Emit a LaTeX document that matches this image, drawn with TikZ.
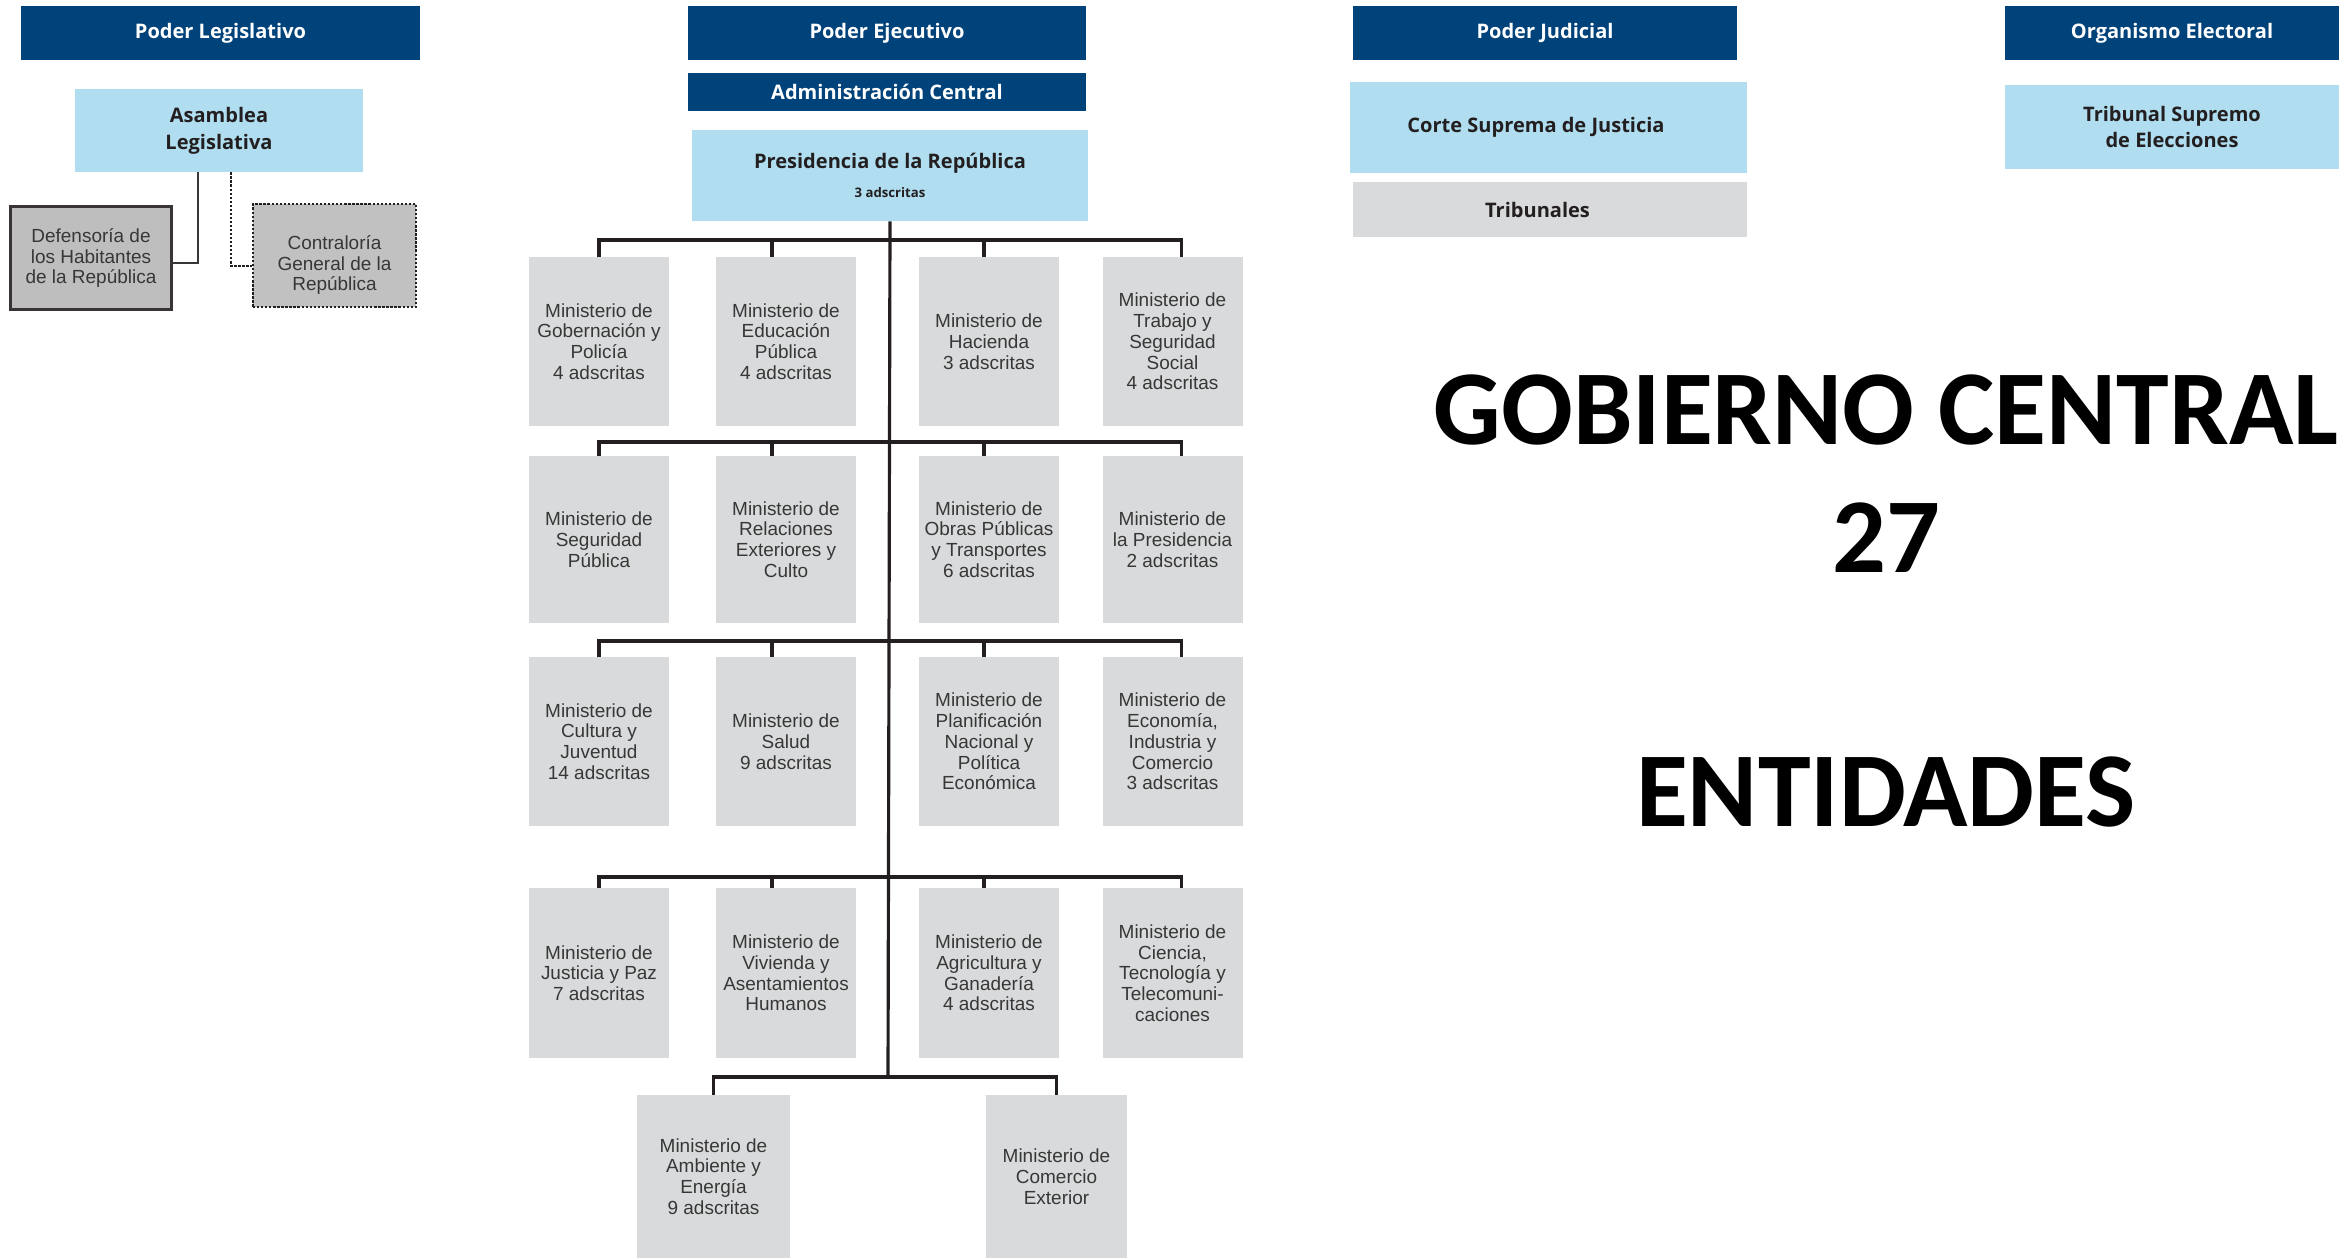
\documentclass[tikz,border=0pt]{standalone}
\usepackage{fontspec}
\setmainfont{Liberation Sans}
\newfontfamily\headfont{Open Sans}
\newfontfamily\bigfont{Carlito}

\definecolor{govblue}{RGB}{0,66,122}
\definecolor{orglight}{RGB}{176,222,240}
\definecolor{minigray}{RGB}{217,218,219}
\definecolor{attgray}{RGB}{190,190,190}
\definecolor{inkdark}{RGB}{35,31,32}
\definecolor{inkgray}{RGB}{55,55,55}

\tikzstyle{branch}=[fill=govblue, text=white, inner sep=0pt, font=\headfont\bfseries\fontsize{11.4}{13}\selectfont]
\tikzstyle{organ}=[fill=orglight, text=inkdark, align=center, inner sep=0pt, font=\headfont\bfseries\fontsize{11.4}{15.3}\selectfont]
\tikzstyle{mini}=[fill=minigray, text=inkgray, align=center, inner sep=0pt, minimum width=2.8cm, font=\fontsize{10.8}{11.8}\selectfont]
\tikzstyle{attached}=[fill=attgray, text=inkgray, align=center, inner sep=0pt, font=\fontsize{10.8}{11.8}\selectfont]
\tikzstyle{trunk}=[line width=1.8pt, draw=inkdark]
\tikzstyle{bigtext}=[anchor=base, inner sep=0pt, font=\bigfont\bfseries\fontsize{60.5}{72}\selectfont]

\begin{document}
\begin{tikzpicture}[x=0.02cm, y=-0.02cm]
	\useasboundingbox (0,0) rectangle (2343,1258);

	% Poder Legislativo
	\node[branch, minimum width=7.98cm, minimum height=1.08cm] (pleg) at (220.5,33) {Poder Legislativo};
	\node[organ, minimum width=5.76cm, minimum height=1.66cm] (asam) at (219,130.5) {Asamblea\\Legislativa};
	\node[attached, draw=inkdark!90, line width=1.8pt, minimum width=3.22cm, minimum height=2.06cm] (defen) at (91,258) {Defensoría de\\los Habitantes\\de la República};
	\node[attached, fill=attgray!95!white, draw=inkdark, densely dotted, line width=1.3pt, minimum width=3.26cm, minimum height=2.06cm] (contra) at (334.5,255.5) {\rule{0pt}{0.66cm}Contraloría\\General de la\\República};
	\draw[line width=1.1pt, draw=inkgray] ([xshift=-0.42cm]asam.south) |- ([yshift=-0.1cm]defen.east);
	\draw[line width=1.3pt, draw=inkdark, densely dotted] ([xshift=0.24cm]asam.south) |- ([yshift=-0.21cm]contra.west);

	% Poder Ejecutivo
	\node[branch, minimum width=7.96cm, minimum height=1.08cm] (pejec) at (887,33) {Poder Ejecutivo};
	\node[branch, minimum width=7.96cm, minimum height=0.76cm] (admin) at (887,92) {Administración Central};
	\node[organ, minimum width=7.92cm, minimum height=1.82cm] (pres) at (890,175.5) {Presidencia de la República\\[1pt]{\fontsize{7.5}{9}\selectfont 3 adscritas}};

	\node[mini, minimum height=3.38cm] (m11) at (599,341.5) {Ministerio de\\Gobernación y\\Policía\\4 adscritas};
	\node[mini, minimum height=3.38cm] (m12) at (786,341.5) {Ministerio de\\Educación\\Pública\\4 adscritas};
	\node[mini, minimum height=3.38cm] (m13) at (989,341.5) {Ministerio de\\Hacienda\\3 adscritas};
	\node[mini, minimum height=3.38cm] (m14) at (1172.5,341.5) {Ministerio de\\Trabajo y\\Seguridad\\Social\\4 adscritas};

	\node[mini, minimum height=3.34cm] (m21) at (599,539.5) {Ministerio de\\Seguridad\\Pública};
	\node[mini, minimum height=3.34cm] (m22) at (786,539.5) {Ministerio de\\Relaciones\\Exteriores y\\Culto};
	\node[mini, minimum height=3.34cm] (m23) at (989,539.5) {Ministerio de\\Obras Públicas\\y Transportes\\6 adscritas};
	\node[mini, minimum height=3.34cm] (m24) at (1172.5,539.5) {Ministerio de\\la Presidencia\\2 adscritas};

	\node[mini, minimum height=3.38cm] (m31) at (599,741.5) {Ministerio de\\Cultura y\\Juventud\\14 adscritas};
	\node[mini, minimum height=3.38cm] (m32) at (786,741.5) {Ministerio de\\Salud\\9 adscritas};
	\node[mini, minimum height=3.38cm] (m33) at (989,741.5) {Ministerio de\\Planificación\\Nacional y\\Política\\Económica};
	\node[mini, minimum height=3.38cm] (m34) at (1172.5,741.5) {Ministerio de\\Economía,\\Industria y\\Comercio\\3 adscritas};

	\node[mini, minimum height=3.4cm] (m41) at (599,973) {Ministerio de\\Justicia y Paz\\7 adscritas};
	\node[mini, minimum height=3.4cm] (m42) at (786,973) {Ministerio de\\Vivienda y\\Asentamientos\\Humanos};
	\node[mini, minimum height=3.4cm] (m43) at (989,973) {Ministerio de\\Agricultura y\\Ganadería\\4 adscritas};
	\node[mini, minimum height=3.4cm] (m44) at (1172.5,973) {Ministerio de\\Ciencia,\\Tecnología y\\Telecomuni-\\caciones};

	\node[mini, minimum width=3.06cm, minimum height=3.26cm] (m51) at (713.5,1176.5) {Ministerio de\\Ambiente y\\Energía\\9 adscritas};
	\node[mini, minimum width=2.82cm, minimum height=3.26cm] (m52) at (1056.5,1176.5) {Ministerio de\\Comercio\\Exterior};

	% junctions on the trunk
	\coordinate (j1) at (888,240);
	\coordinate (j2) at (888,442);
	\coordinate (j3) at (888,641);
	\coordinate (j4) at (888,877);
	\coordinate (j5) at (888,1077);

	\draw[trunk] (pres.south) -- (j5);
	\foreach \r in {1,...,4}{
		\draw[trunk] (m\r1.north) |- (j\r) -| ([xshift=0.18cm]m\r4.north);
		\draw[trunk] ([xshift=-0.28cm]m\r2.north) |- (j\r);
		\draw[trunk] ([xshift=-0.1cm]m\r3.north) |- (j\r);
	}
	\draw[trunk] (m51.north) |- (j5) -| (m52.north);

	% Poder Judicial
	\node[branch, minimum width=7.68cm, minimum height=1.08cm] (pjud) at (1545,33) {Poder Judicial};
	\node[organ, minimum width=7.94cm, minimum height=1.82cm] (corte) at (1548.5,127.5) {Corte Suprema de Justicia\hspace*{0.5cm}};
	\node[organ, fill=minigray, minimum width=7.88cm, minimum height=1.1cm] (tribs) at (1550,209.5) {Tribunales\hspace*{0.5cm}};

	% Organismo Electoral
	\node[branch, minimum width=6.68cm, minimum height=1.08cm] (porg) at (2172,33) {Organismo Electoral};
	\node[organ, minimum width=6.68cm, minimum height=1.7cm] (tse) at (2172,127) {Tribunal Supremo\\de Elecciones};

	% total
	\node[bigtext] (gob) at (1886,444) {GOBIERNO CENTRAL};
	\node[bigtext] (num) at (1886,572) {27};
	\node[bigtext] (ent) at (1886,826) {ENTIDADES};
\end{tikzpicture}
\end{document}
